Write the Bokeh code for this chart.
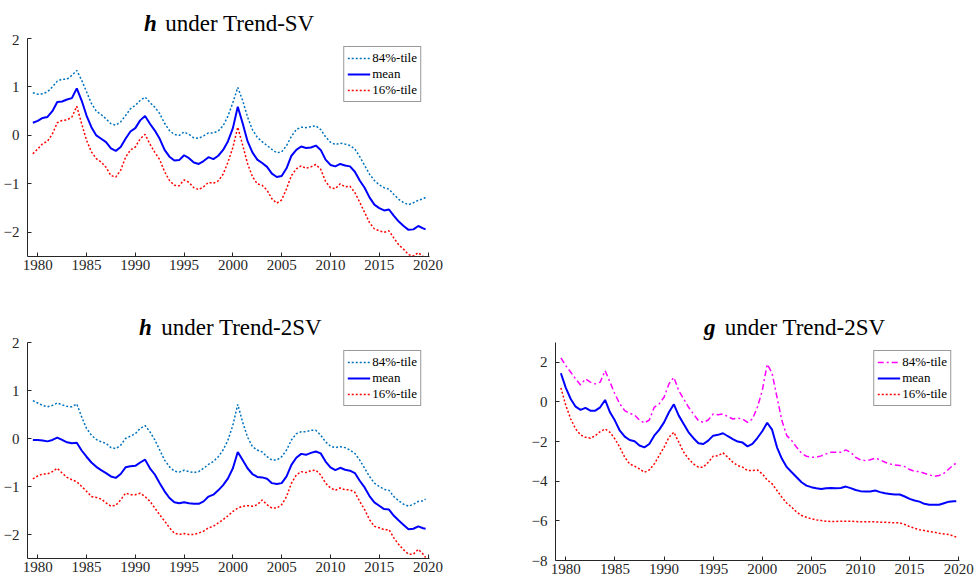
from bokeh.plotting import figure
from bokeh.models import Range1d, FixedTicker, Label
from bokeh.layouts import column, row
from bokeh.embed import file_html
from bokeh.resources import INLINE

FONT = "Liberation Serif"
AX = "#262626"

years = [1979.5 + 0.5 * i for i in range(81)] + [2019.75]
x_ticks = [1980, 1985, 1990, 1995, 2000, 2005, 2010, 2015, 2020]
h_yticks = [-2, -1, 0, 1, 2]
g_yticks = [-8, -6, -4, -2, 0, 2]

# h under Trend-SV
h_sv_84 = [0.88, 0.85, 0.86, 0.90, 1.00, 1.12, 1.16, 1.16, 1.24, 1.34,
           1.14, 0.90, 0.66, 0.50, 0.43, 0.34, 0.24, 0.21, 0.28, 0.41,
           0.55, 0.62, 0.72, 0.79, 0.68, 0.58, 0.45, 0.25, 0.10, 0.02,
           0.00, 0.07, 0.02, -0.05, -0.06, -0.01, 0.05, 0.05, 0.09, 0.20,
           0.40, 0.68, 0.99, 0.72, 0.38, 0.12, -0.04, -0.13, -0.21, -0.29,
           -0.36, -0.34, -0.21, -0.02, 0.12, 0.17, 0.16, 0.18, 0.20, 0.12,
           -0.03, -0.14, -0.19, -0.16, -0.18, -0.21, -0.28, -0.44, -0.62, -0.80,
           -0.93, -1.02, -1.08, -1.11, -1.22, -1.32, -1.39, -1.43, -1.39, -1.34,
           -1.31, -1.28]
h_sv_mean = [0.26, 0.30, 0.36, 0.38, 0.50, 0.69, 0.70, 0.74, 0.77, 0.97,
             0.72, 0.41, 0.17, 0.00, -0.07, -0.14, -0.27, -0.32, -0.24, -0.07,
             0.08, 0.15, 0.31, 0.40, 0.24, 0.10, -0.07, -0.30, -0.44, -0.52,
             -0.51, -0.41, -0.47, -0.56, -0.59, -0.53, -0.45, -0.49, -0.42, -0.30,
             -0.12, 0.15, 0.59, 0.25, -0.12, -0.35, -0.50, -0.57, -0.65, -0.79,
             -0.86, -0.84, -0.68, -0.42, -0.30, -0.23, -0.26, -0.25, -0.21, -0.30,
             -0.50, -0.61, -0.64, -0.59, -0.62, -0.64, -0.75, -0.93, -1.08, -1.28,
             -1.43, -1.50, -1.55, -1.53, -1.66, -1.78, -1.87, -1.95, -1.94, -1.87,
             -1.92, -1.94]
h_sv_16 = [-0.38, -0.28, -0.17, -0.12, 0.03, 0.26, 0.31, 0.32, 0.38, 0.60,
           0.24, -0.10, -0.34, -0.48, -0.55, -0.66, -0.83, -0.86, -0.72, -0.45,
           -0.30, -0.24, -0.07, 0.02, -0.18, -0.35, -0.50, -0.75, -0.93, -1.03,
           -1.04, -0.92, -0.97, -1.08, -1.12, -1.06, -0.97, -0.99, -0.94, -0.80,
           -0.55, -0.25, 0.17, -0.20, -0.58, -0.85, -1.00, -1.03, -1.13, -1.31,
           -1.40, -1.33, -1.10, -0.83, -0.69, -0.63, -0.68, -0.65, -0.60, -0.70,
           -0.95, -1.08, -1.10, -1.00, -1.06, -1.05, -1.18, -1.38, -1.59, -1.80,
           -1.93, -1.97, -2.00, -1.97, -2.12, -2.26, -2.35, -2.46, -2.49, -2.42,
           -2.50, -2.53]

# h under Trend-2SV
h_2sv_84 = [0.79, 0.74, 0.69, 0.66, 0.69, 0.74, 0.70, 0.67, 0.66, 0.72,
            0.45, 0.21, 0.07, -0.02, -0.07, -0.10, -0.19, -0.21, -0.14, 0.00,
            0.05, 0.10, 0.21, 0.27, 0.14, -0.03, -0.24, -0.45, -0.59, -0.68,
            -0.70, -0.66, -0.69, -0.71, -0.69, -0.62, -0.54, -0.48, -0.38, -0.24,
            -0.03, 0.28, 0.71, 0.34, 0.03, -0.17, -0.24, -0.28, -0.38, -0.45,
            -0.45, -0.38, -0.24, -0.03, 0.10, 0.14, 0.14, 0.17, 0.17, 0.07,
            -0.07, -0.16, -0.19, -0.17, -0.19, -0.24, -0.31, -0.45, -0.62, -0.79,
            -0.93, -1.00, -1.06, -1.08, -1.21, -1.30, -1.37, -1.41, -1.37, -1.31,
            -1.30, -1.26]
h_2sv_mean = [-0.03, -0.03, -0.04, -0.06, -0.03, 0.02, -0.03, -0.08, -0.10, -0.09,
              -0.25, -0.38, -0.50, -0.59, -0.66, -0.72, -0.79, -0.82, -0.74, -0.60,
              -0.58, -0.57, -0.50, -0.44, -0.62, -0.75, -0.93, -1.10, -1.24, -1.33,
              -1.35, -1.33, -1.35, -1.36, -1.36, -1.31, -1.21, -1.17, -1.08, -0.97,
              -0.83, -0.62, -0.28, -0.45, -0.62, -0.74, -0.80, -0.81, -0.84, -0.93,
              -0.95, -0.93, -0.79, -0.55, -0.40, -0.32, -0.34, -0.30, -0.27, -0.31,
              -0.48, -0.60, -0.66, -0.61, -0.65, -0.67, -0.72, -0.88, -1.02, -1.20,
              -1.33, -1.40, -1.47, -1.48, -1.61, -1.71, -1.80, -1.89, -1.88, -1.83,
              -1.87, -1.88]
h_2sv_16 = [-0.84, -0.78, -0.74, -0.74, -0.69, -0.62, -0.72, -0.81, -0.86, -0.90,
            -1.00, -1.10, -1.21, -1.23, -1.26, -1.34, -1.41, -1.39, -1.28, -1.14,
            -1.17, -1.17, -1.14, -1.21, -1.31, -1.45, -1.59, -1.72, -1.86, -1.97,
            -2.00, -1.98, -2.00, -2.00, -1.97, -1.93, -1.86, -1.83, -1.76, -1.69,
            -1.61, -1.52, -1.45, -1.41, -1.40, -1.41, -1.38, -1.28, -1.38, -1.45,
            -1.45, -1.38, -1.21, -0.93, -0.76, -0.69, -0.71, -0.67, -0.66, -0.76,
            -0.93, -1.03, -1.08, -1.03, -1.07, -1.07, -1.12, -1.31, -1.48, -1.69,
            -1.83, -1.86, -1.90, -1.90, -2.07, -2.21, -2.32, -2.41, -2.41, -2.31,
            -2.41, -2.48]

# g under Trend-2SV
g_2sv_84 = [2.22, 1.83, 1.50, 1.16, 0.86, 1.16, 1.00, 0.91, 1.00, 1.58,
            1.00, 0.40, -0.10, -0.44, -0.57, -0.66, -0.91, -1.06, -0.91, -0.27,
            -0.10, 0.24, 0.91, 1.24, 0.57, 0.15, -0.27, -0.61, -0.94, -1.03,
            -0.91, -0.61, -0.64, -0.61, -0.74, -0.86, -0.82, -0.86, -1.03, -0.86,
            -0.27, 0.57, 1.90, 1.45, 0.24, -0.94, -1.70, -1.95, -2.29, -2.59,
            -2.74, -2.79, -2.79, -2.72, -2.62, -2.54, -2.54, -2.54, -2.42, -2.54,
            -2.79, -2.92, -2.96, -2.92, -2.84, -2.92, -3.04, -3.13, -3.18, -3.21,
            -3.26, -3.41, -3.50, -3.51, -3.60, -3.68, -3.75, -3.71, -3.60, -3.38,
            -3.16, -3.09]
g_2sv_mean = [1.45, 0.71, 0.15, -0.24, -0.40, -0.30, -0.44, -0.44, -0.27, 0.10,
              -0.52, -0.94, -1.45, -1.75, -1.92, -1.98, -2.20, -2.29, -2.12, -1.70,
              -1.41, -1.03, -0.52, -0.12, -0.69, -1.11, -1.53, -1.83, -2.08, -2.12,
              -1.95, -1.70, -1.66, -1.58, -1.73, -1.87, -2.00, -2.05, -2.24, -2.12,
              -1.82, -1.48, -1.05, -1.40, -2.29, -2.87, -3.29, -3.55, -3.80, -4.05,
              -4.22, -4.30, -4.35, -4.39, -4.35, -4.34, -4.35, -4.34, -4.27, -4.35,
              -4.44, -4.50, -4.52, -4.52, -4.47, -4.55, -4.61, -4.64, -4.67, -4.67,
              -4.77, -4.89, -4.97, -5.03, -5.14, -5.19, -5.19, -5.19, -5.11, -5.03,
              -5.01, -5.01]
g_2sv_16 = [0.71, -0.18, -0.86, -1.36, -1.66, -1.78, -1.83, -1.70, -1.50, -1.36,
            -1.53, -1.87, -2.29, -2.79, -3.13, -3.24, -3.38, -3.55, -3.43, -3.13,
            -2.71, -2.29, -1.78, -1.53, -2.03, -2.54, -2.87, -3.13, -3.29, -3.29,
            -3.04, -2.74, -2.71, -2.57, -2.79, -3.04, -3.21, -3.29, -3.46, -3.46,
            -3.43, -3.63, -3.93, -4.13, -4.47, -4.81, -5.11, -5.31, -5.56, -5.73,
            -5.82, -5.90, -5.95, -5.98, -6.02, -6.03, -6.03, -6.02, -6.02, -6.02,
            -6.03, -6.05, -6.05, -6.05, -6.05, -6.07, -6.07, -6.08, -6.10, -6.10,
            -6.18, -6.29, -6.37, -6.45, -6.49, -6.54, -6.57, -6.62, -6.66, -6.69,
            -6.77, -6.82]

for s in (h_sv_84, h_sv_mean, h_sv_16, h_2sv_84, h_2sv_mean, h_2sv_16,
          g_2sv_84, g_2sv_mean, g_2sv_16):
    assert len(s) == len(years), len(s)


def make_panel(w, h, bl, br, bt, bb, yr, yticks, xr=(1978.95, 2020.15)):
    p = figure(width=w, height=h, output_backend="svg", toolbar_location=None,
               x_range=Range1d(*xr), y_range=Range1d(*yr),
               min_border_left=bl, min_border_right=br,
               min_border_top=bt, min_border_bottom=bb)
    p.outline_line_color = None
    p.grid.visible = False
    p.background_fill_color = "white"
    p.border_fill_color = "white"
    p.xaxis.ticker = FixedTicker(ticks=x_ticks)
    p.yaxis.ticker = FixedTicker(ticks=yticks)
    for ax in p.axis:
        ax.axis_line_color = AX
        ax.axis_line_width = 1
        ax.major_tick_line_color = AX
        ax.major_tick_in = 4
        ax.major_tick_out = 0
        ax.minor_tick_line_color = None
        ax.major_label_text_font = FONT
        ax.major_label_text_font_size = "15px"
        ax.major_label_text_color = AX
    p.xaxis.major_label_standoff = 3
    p.yaxis.major_label_standoff = 8
    return p


def style_legend(p):
    lg = p.legend[0]
    lg.location = "top_right"
    lg.label_text_font = FONT
    lg.label_text_font_size = "13px"
    lg.label_text_color = "black"
    lg.glyph_width = 23
    lg.glyph_height = 14
    lg.label_height = 14
    lg.label_standoff = 2
    lg.spacing = 0
    lg.padding = 3
    lg.margin = 8
    lg.border_line_color = "#333333"
    lg.border_line_width = 1
    lg.background_fill_color = "white"
    lg.background_fill_alpha = 1


def title_fig(w, h, var, rest, x_var, x_rest, y_top):
    t = figure(width=w, height=h, output_backend="svg", toolbar_location=None,
               title=None,
               x_range=Range1d(0, w), y_range=Range1d(h, 0),
               x_axis_location=None, y_axis_location=None,
               min_border_left=0, min_border_right=0,
               min_border_top=0, min_border_bottom=0)
    t.outline_line_color = None
    t.grid.visible = False
    t.add_layout(Label(x=x_var, y=y_top, text=var, text_font=FONT,
                       text_font_style="bold italic", text_font_size="23px",
                       text_baseline="top", text_color="black"))
    t.add_layout(Label(x=x_rest, y=y_top, text=rest, text_font=FONT,
                       text_font_size="23px", text_baseline="top",
                       text_color="black"))
    return t


DOT = "2 2"

# Panel 1
t1 = title_fig(487, 34, "h", "under Trend-SV", 141, 167, 10.5)
p1 = make_panel(487, 266, 26, 58, 4, 44, (-2.5, 2), h_yticks)
p1.line(years, h_sv_84, color="#0072BD", line_width=1.5, line_dash=DOT, legend_label="84%-tile")
p1.line(years, h_sv_mean, color="#0000FF", line_width=2, legend_label="mean")
p1.line(years, h_sv_16, color="#FF0000", line_width=1.5, line_dash=DOT, legend_label="16%-tile")
style_legend(p1)

# Panel 2
t2 = title_fig(487, 37, "h", "under Trend-2SV", 135, 162, 14.4)
p2 = make_panel(487, 243, 26, 58, 5, 22, (-2.5, 2), h_yticks)
p2.line(years, h_2sv_84, color="#0072BD", line_width=1.5, line_dash=DOT, legend_label="84%-tile")
p2.line(years, h_2sv_mean, color="#0000FF", line_width=2, legend_label="mean")
p2.line(years, h_2sv_16, color="#FF0000", line_width=1.5, line_dash=DOT, legend_label="16%-tile")
style_legend(p2)

# Panel 3
t3 = title_fig(487, 40, "g", "under Trend-2SV", 179, 204, 14.4)
p3 = make_panel(487, 240, 68, 15, 2, 20, (-8, 3), g_yticks, xr=(1978.95, 2020.08))
p3.line(years, g_2sv_84, color="#FF00FF", line_width=1.5, line_dash="6 3 2 3", legend_label="84%-tile")
p3.line(years, g_2sv_mean, color="#0000FF", line_width=2, legend_label="mean")
p3.line(years, g_2sv_16, color="#FF0000", line_width=1.5, line_dash=DOT, legend_label="16%-tile")
style_legend(p3)

layout = column(t1, p1, row(column(t2, p2), column(t3, p3)))

open("out.html", "w").write(file_html(layout, INLINE))
